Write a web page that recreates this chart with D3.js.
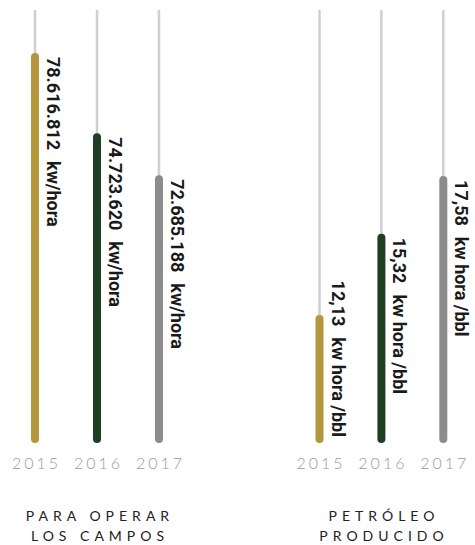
<!DOCTYPE html>
<html>
<head>
<meta charset="utf-8">
<script src="https://cdnjs.cloudflare.com/ajax/libs/d3/7.8.5/d3.min.js"></script>
<style>
  html, body { margin: 0; padding: 0; background: #fff; }
  svg { display: block; }
</style>
</head>
<body>
<div id="chart"></div>
<script>
// datos
var years = ["2015", "2016", "2017"];
var energyValues = [78616812, 74723620, 72685188];
var energyLabels = ["78.616.812  kw/hora", "74.723.620  kw/hora", "72.685.188  kw/hora"];
var perBarrelValues = [12.13, 15.32, 17.58];
var perBarrelLabels = ["12,13  kw hora /bbl", "15,32  kw hora /bbl", "17,58  kw hora /bbl"];
var groupTitles = [["PARA OPERAR", "LOS CAMPOS"], ["PETRÓLEO", "PRODUCIDO"]];
var yearColors = ["#b4973a", "#1f3f22", "#8c8c8c"];

var width = 475, height = 545;
var trackTop = 10, baseY = 443;

var svg = d3.select("#chart").append("svg")
    .attr("width", width)
    .attr("height", height);

var color = d3.scaleOrdinal().domain(years).range(yearColors);

function drawGroup(values, labels, title, xRange, yDomain, titleX) {
    var x = d3.scalePoint().domain(years).range(xRange);
    var y = d3.scaleLinear().domain(yDomain).range([baseY, trackTop]);

    var rows = years.map(function (yr, i) {
        return { year: yr, value: values[i], label: labels[i] };
    });

    var g = svg.append("g");

    // pista gris
    g.selectAll(".track")
        .data(rows)
      .enter().append("line")
        .attr("class", "track")
        .attr("x1", function (d) { return x(d.year); })
        .attr("x2", function (d) { return x(d.year); })
        .attr("y1", trackTop)
        .attr("y2", baseY - 4)
        .attr("stroke", "#cfcfcf")
        .attr("stroke-width", 2.5);

    // barras
    g.selectAll(".bar")
        .data(rows)
      .enter().append("rect")
        .attr("class", "bar")
        .attr("x", function (d) { return x(d.year) - 4; })
        .attr("y", function (d) { return y(d.value); })
        .attr("width", 8)
        .attr("height", function (d) { return baseY - y(d.value); })
        .attr("rx", 4)
        .attr("fill", function (d) { return color(d.year); });

    // etiquetas de valor (verticales): numero + unidad con hueco doble
    var lbl = g.selectAll(".value")
        .data(rows)
      .enter().append("text")
        .attr("class", "value")
        .attr("font-family", "Roboto, 'Noto Sans', sans-serif")
        .attr("font-weight", "bold")
        .attr("font-size", 18)
        .attr("fill", "#1a1a1a");

    lbl.append("tspan")
        .text(function (d) { return d.label.split("  ")[0]; });
    lbl.append("tspan")
        .attr("dx", 11)
        .text(function (d) { return d.label.split("  ")[1]; });

    lbl.attr("transform", function (d) {
        var len = this.getComputedTextLength() + 11;
        var ys = Math.min(y(d.value) + 4, baseY - 6 - len);
        return "translate(" + (x(d.year) + 12) + "," + ys + ") rotate(90)";
    });

    // años
    g.selectAll(".year")
        .data(rows)
      .enter().append("text")
        .attr("class", "year")
        .attr("x", function (d) { return x(d.year) + 1.5; })
        .attr("y", 469)
        .attr("text-anchor", "middle")
        .attr("font-family", "Lato, 'Open Sans', sans-serif")
        .attr("font-weight", 300)
        .attr("font-size", 16)
        .attr("letter-spacing", 3)
        .attr("fill", "#999")
        .text(function (d) { return d.year; });

    // titulo del grupo
    g.selectAll(".title")
        .data(title)
      .enter().append("text")
        .attr("class", "title")
        .attr("x", titleX + 3)
        .attr("y", function (d, i) { return 521 + i * 20; })
        .attr("text-anchor", "middle")
        .attr("font-family", "Lato, 'Open Sans', sans-serif")
        .attr("font-weight", 400)
        .attr("font-size", 14)
        .attr("letter-spacing", 5)
        .attr("fill", "#222")
        .text(function (d) { return d; });
}

drawGroup(energyValues, energyLabels, groupTitles[0], [35, 159], [59.7e6, 80.7e6], 97);
drawGroup(perBarrelValues, perBarrelLabels, groupTitles[1], [319.5, 443.3], [7.1, 24.1], 381);
</script>
</body>
</html>
